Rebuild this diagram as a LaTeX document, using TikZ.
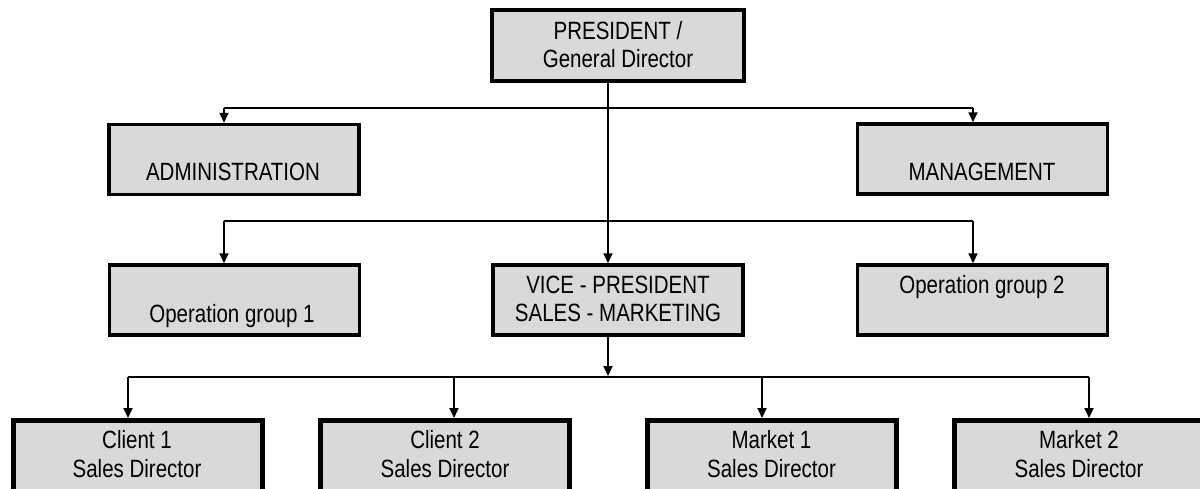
\documentclass[tikz,border=0pt]{standalone}
\usepackage{fontspec}
\setmainfont{Liberation Sans}[FakeStretch=0.82]
\usetikzlibrary{arrows.meta}
\definecolor{boxgray}{HTML}{D9D9D9}
\begin{document}
\begin{tikzpicture}[x=1pt,y=-1pt,
  box/.style={draw=black, fill=boxgray, line width=3.5pt, minimum width=250pt, minimum height=70pt, inner sep=0pt},
  topbox/.style={box, line width=4pt, minimum width=252pt, minimum height=71pt},
  lowbox/.style={box, line width=5pt, minimum width=249pt, minimum height=90pt},
  txt/.style={font=\fontsize{25}{28}\selectfont, inner sep=0pt, anchor=base},
  link/.style={line width=2pt},
  arr/.style={link, -{Triangle[length=10pt,width=9pt]}}]
\useasboundingbox (0,0) rectangle (1200,488);
\begin{scope}
\clip (0,0) rectangle (1200,488);
% boxes
\node[topbox] (top) at (618,45.5) {};
\node[box] (admin) at (234,159.5) {};
\node[box] (mgmt) at (982.5,159) {};
\node[box] (op1) at (234.5,300) {};
\node[box] (vp) at (618,300) {};
\node[box] (op2) at (982.5,300) {};
\node[lowbox] (c1) at (138,465.5) {};
\node[lowbox] (c2) at (445,465.5) {};
\node[lowbox] (m1) at (771.5,465.5) {};
\node[lowbox] (m2) at (1079,465.5) {};
% texts
\node[txt] (t1a) at (618,39) {PRESIDENT /};
\node[txt] (t1b) at (618,67) {General Director};
\node[txt] (tadm) at (233,180) {ADMINISTRATION};
\node[txt] (tmgm) at (982,180) {MANAGEMENT};
\node[txt] (top1) at (232,322) {Operation group 1};
\node[txt] (top2) at (982,293) {Operation group 2};
\node[txt] (tvpa) at (618,293) {VICE - PRESIDENT};
\node[txt] (tvpb) at (618,321) {SALES - MARKETING};
\node[txt] (tc1a) at (137,448) {Client 1};
\node[txt] (tc1b) at (137,477) {Sales Director};
\node[txt] (tc2a) at (445,448) {Client 2};
\node[txt] (tc2b) at (445,477) {Sales Director};
\node[txt] (tm1a) at (771.5,448) {Market 1};
\node[txt] (tm1b) at (771.5,477) {Sales Director};
\node[txt] (tm2a) at (1079,448) {Market 2};
\node[txt] (tm2b) at (1079,477) {Sales Director};
% junction coordinates
\coordinate (vx) at (608,0);
\coordinate (ja) at (224,108);
\coordinate (jm) at (973,108);
\coordinate (jo1) at (224,221);
\coordinate (jo2) at (973,221);
\coordinate (jb) at (608,377);
\coordinate (jc1) at (128,377);
\coordinate (jc2) at (454,377);
\coordinate (jm1) at (762,377);
\coordinate (jm2) at (1089,377);
% connectors
\draw[arr] (top.south -| vx) -- (vp.north -| vx);
\draw[link] (ja) -- (jm);
\draw[arr] (ja) -- (admin.north -| ja);
\draw[arr] (jm) -- (mgmt.north -| jm);
\draw[link] (jo1) -- (jo2);
\draw[arr] (jo1) -- (op1.north -| jo1);
\draw[arr] (jo2) -- (op2.north -| jo2);
\draw[arr, shorten >=1pt] (vp.south -| vx) -- (jb);
\draw[link] (jc1) -- (jm2);
\draw[arr] (jc1) -- (c1.north -| jc1);
\draw[arr] (jc2) -- (c2.north -| jc2);
\draw[arr] (jm1) -- (m1.north -| jm1);
\draw[arr] (jm2) -- (m2.north -| jm2);
\end{scope}
\end{tikzpicture}
\end{document}
